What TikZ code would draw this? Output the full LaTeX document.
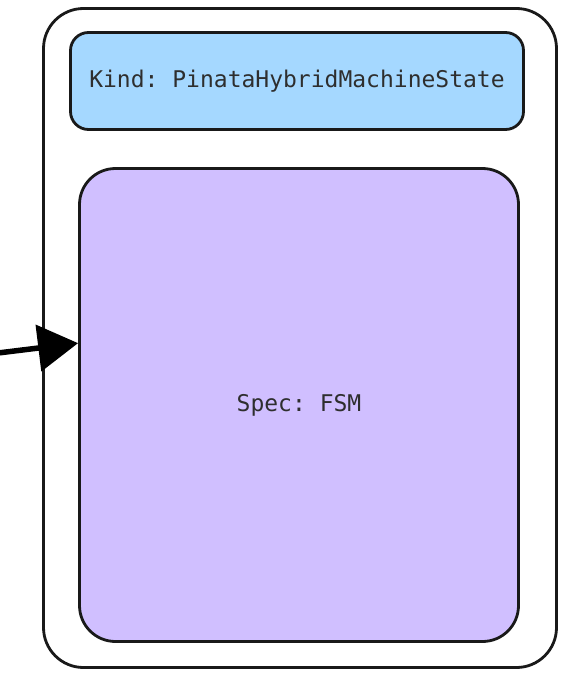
\documentclass[tikz,border=0pt]{standalone}
\usepackage{fontspec}
\setmonofont{DejaVu Sans Mono}
\usetikzlibrary{arrows.meta,calc}
\definecolor{kindfill}{HTML}{A5D8FF}
\definecolor{specfill}{HTML}{D0BFFF}
\definecolor{inktext}{HTML}{2E2E2E}
\tikzset{
  panel/.style={draw=black!90, line width=2.8pt, rounded corners=#1},
  label/.style={font=\ttfamily\fontsize{23}{27}\selectfont, text=inktext},
  pointer/.style={line width=5.5pt, -{Triangle[length=40pt,width=46pt]}}
}
\begin{document}
\begin{tikzpicture}[x=1pt,y=-1pt]
  \useasboundingbox[fill=white] (0,0) rectangle (564,677);
  % outer container
  \node[panel=40pt, minimum width=513pt, minimum height=659pt, inner sep=0pt]
    (outer) at (300,338) {};
  % kind header
  \node[panel=18pt, fill=kindfill, minimum width=453pt, minimum height=97pt, inner sep=0pt]
    (kind) at (297,81) {};
  \node[label] (kindtext) at (kind.center) {Kind: PinataHybridMachineState};
  % spec body
  \node[panel=36pt, fill=specfill, minimum width=439pt, minimum height=473pt, inner sep=0pt]
    (spec) at (299,405) {};
  \node[label] (spectext) at (spec.center) {Spec: FSM};
  % incoming pointer
  \coordinate (src) at (-2,353);
  \draw[pointer] (src) -- ($(spec.north west)!0.37!(spec.south west)$);
\end{tikzpicture}
\end{document}
